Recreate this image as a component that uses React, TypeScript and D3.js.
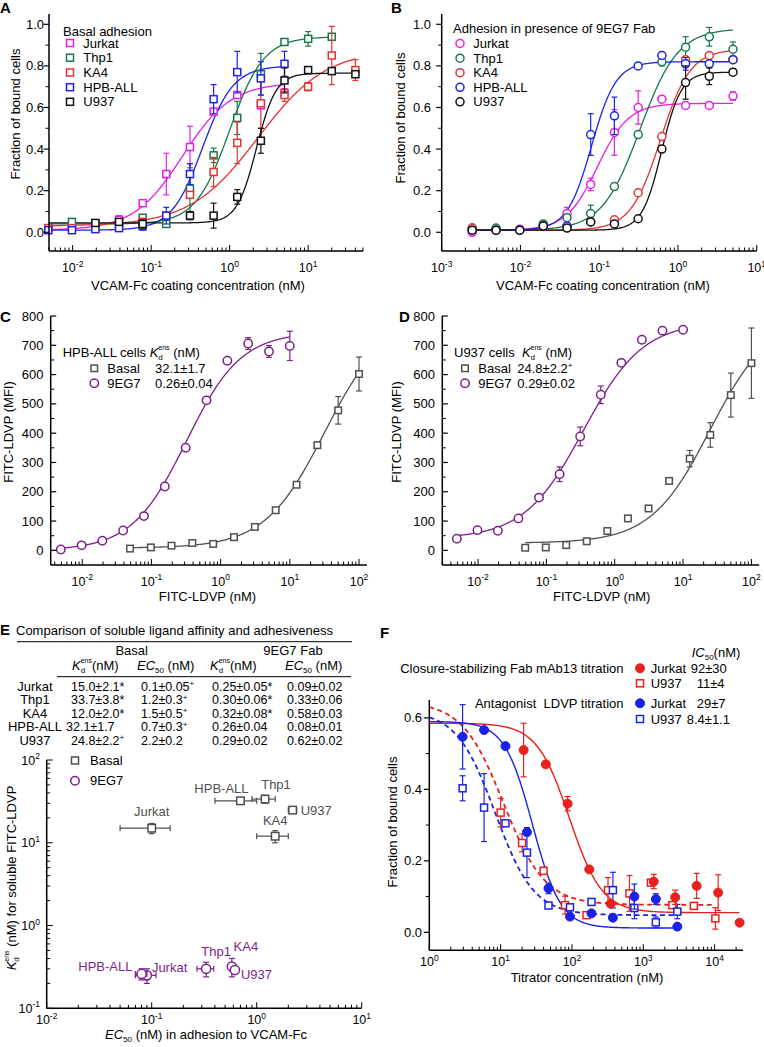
import React from "react";
import * as d3 from "d3";

const FONT = "'Liberation Sans', Arial, Helvetica, sans-serif";
type Pt = [number, number, number]; // [x, y, error]
type Fit = { b: number; t: number; ec: number; n: number; x0: number; x1: number };

// ---------------- Panel A: basal adhesion ----------------
const lineNames = ["Jurkat", "Thp1", "KA4", "HPB-ALL", "U937"];
const lineColors = ["#e61ee6", "#18784a", "#e23434", "#1e22e8", "#111111"];
const aYTicks = [0, 0.2, 0.4, 0.6, 0.8, 1.0];
const aYMinor = [0.1, 0.3, 0.5, 0.7, 0.9];

const aJurkat: Pt[] = [[0.0049, 0.02, 0], [0.0098, 0.03, 0], [0.0195, 0.04, 0], [0.039, 0.06, 0.02], [0.078, 0.14, 0], [0.156, 0.28, 0.1], [0.3125, 0.41, 0.1], [0.625, 0.58, 0], [1.25, 0.66, 0], [2.5, 0.61, 0], [5, 0.67, 0]];
const aThp1: Pt[] = [[0.0098, 0.05, 0], [0.0195, 0.04, 0], [0.078, 0.07, 0], [0.156, 0.04, 0], [0.3125, 0.21, 0.12], [0.625, 0.37, 0.035], [1.25, 0.55, 0.08], [2.5, 0.76, 0.1], [5, 0.915, 0], [10, 0.93, 0.035], [20, 0.94, 0]];
const aKA4: Pt[] = [[0.0049, 0.02, 0], [0.0098, 0.02, 0], [0.039, 0.04, 0], [0.078, 0.05, 0], [0.156, 0.08, 0], [0.3125, 0.18, 0], [0.625, 0.29, 0.07], [1.25, 0.43, 0.1], [2.5, 0.62, 0.12], [5, 0.66, 0.03], [10, 0.70, 0.02], [20, 0.85, 0.14], [40, 0.78, 0.05]];
const aHPB: Pt[] = [[0.0049, 0.01, 0], [0.0098, 0.01, 0], [0.0195, 0.015, 0], [0.039, 0.02, 0], [0.078, 0.03, 0.02], [0.156, 0.08, 0.04], [0.3125, 0.28, 0.05], [0.625, 0.64, 0.07], [1.25, 0.77, 0.1], [2.5, 0.74, 0.08], [5, 0.81, 0.06]];
const aU937: Pt[] = [[0.0195, 0.045, 0], [0.039, 0.05, 0], [0.078, 0.04, 0.02], [0.3125, 0.08, 0.02], [0.625, 0.08, 0.06], [1.25, 0.17, 0.035], [2.5, 0.44, 0.06], [5, 0.73, 0.06], [10, 0.78, 0], [20, 0.775, 0], [40, 0.76, 0]];
const aFits: Fit[] = [
  { b: 0.01, t: 0.72, ec: 0.25, n: 1.4, x0: 0.005, x1: 5 },
  { b: 0.04, t: 0.94, ec: 1.0, n: 2.0, x0: 0.005, x1: 20 },
  { b: 0.03, t: 0.88, ec: 2.3, n: 1.0, x0: 0.005, x1: 40 },
  { b: 0.01, t: 0.80, ec: 0.45, n: 2.2, x0: 0.005, x1: 5 },
  { b: 0.045, t: 0.765, ec: 2.2, n: 3.5, x0: 0.005, x1: 40 },
];

// ---------------- Panel B: 9EG7 Fab ----------------
const bJurkat: Pt[] = [[0.00244, 0.0, 0], [0.0049, 0.01, 0], [0.0098, 0.015, 0], [0.0195, 0.03, 0], [0.039, 0.09, 0.03], [0.078, 0.23, 0.03], [0.156, 0.48, 0.11], [0.3125, 0.60, 0.08], [0.625, 0.64, 0], [1.25, 0.61, 0], [2.5, 0.61, 0], [5, 0.655, 0.02]];
const bThp1: Pt[] = [[0.00244, 0.02, 0], [0.0049, 0.02, 0], [0.0098, 0.01, 0], [0.0195, 0.04, 0], [0.039, 0.07, 0], [0.078, 0.09, 0.04], [0.156, 0.22, 0], [0.3125, 0.47, 0], [0.625, 0.82, 0.02], [1.25, 0.89, 0.05], [2.5, 0.94, 0.045], [5, 0.88, 0.035]];
const bKA4: Pt[] = [[0.00244, 0.02, 0], [0.0049, 0.01, 0], [0.0098, 0.01, 0], [0.0195, 0.03, 0], [0.039, 0.03, 0], [0.078, 0.05, 0], [0.156, 0.06, 0], [0.3125, 0.19, 0], [0.625, 0.46, 0], [1.25, 0.83, 0], [2.5, 0.85, 0], [5, 0.83, 0]];
const bHPB: Pt[] = [[0.00244, 0.01, 0], [0.0049, 0.01, 0], [0.0098, 0.01, 0], [0.0195, 0.03, 0], [0.039, 0.03, 0], [0.078, 0.47, 0.1], [0.156, 0.56, 0.09], [0.3125, 0.80, 0], [0.625, 0.85, 0.015], [1.25, 0.81, 0.03], [2.5, 0.81, 0], [5, 0.83, 0]];
const bU937: Pt[] = [[0.00244, 0.01, 0], [0.0049, 0.01, 0], [0.0098, 0.01, 0], [0.0195, 0.03, 0], [0.039, 0.02, 0], [0.078, 0.05, 0], [0.156, 0.04, 0], [0.3125, 0.065, 0], [0.625, 0.40, 0], [1.25, 0.72, 0.08], [2.5, 0.75, 0.04], [5, 0.77, 0.015]];
const bFits: Fit[] = [
  { b: 0.01, t: 0.62, ec: 0.095, n: 2.2, x0: 0.00244, x1: 5 },
  { b: 0.01, t: 0.98, ec: 0.33, n: 1.8, x0: 0.00244, x1: 5 },
  { b: 0.01, t: 0.88, ec: 0.6, n: 2.3, x0: 0.00244, x1: 5 },
  { b: 0.01, t: 0.82, ec: 0.08, n: 2.8, x0: 0.00244, x1: 5 },
  { b: 0.01, t: 0.77, ec: 0.62, n: 3.5, x0: 0.00244, x1: 5 },
];

// ---------------- Panels C, D: FITC-LDVP binding ----------------
const mfiTicks = [0, 100, 200, 300, 400, 500, 600, 700, 800];
const mfiMinor = [50, 150, 250, 350, 450, 550, 650, 750];
const cFab: Pt[] = [[0.0049, 3, 0], [0.0098, 17, 0], [0.0195, 33, 0], [0.039, 68, 0], [0.078, 117, 0], [0.156, 218, 0], [0.3125, 350, 0], [0.625, 512, 0], [1.25, 647, 0], [2.5, 706, 20], [5, 679, 20], [10, 698, 50]];
const cBasal: Pt[] = [[0.049, 6, 0], [0.098, 10, 0], [0.195, 16, 0], [0.39, 25, 0], [0.78, 22, 0], [1.56, 45, 0], [3.125, 80, 0], [6.25, 137, 0], [12.5, 224, 0], [25, 359, 0], [50, 478, 47], [100, 602, 58]];
const cFitFab: Fit = { b: 0, t: 745, ec: 0.32, n: 1.1, x0: 0.0049, x1: 10 };
const cFitBasal: Fit = { b: 8, t: 800, ec: 32, n: 1.0, x0: 0.049, x1: 100 };
const dFab: Pt[] = [[0.0049, 40, 0], [0.0098, 69, 0], [0.0195, 67, 0], [0.039, 109, 0], [0.078, 180, 0], [0.156, 260, 25], [0.3125, 389, 32], [0.625, 531, 30], [1.25, 640, 0], [2.5, 719, 0], [5, 750, 0], [10, 753, 0]];
const dBasal: Pt[] = [[0.049, 9, 0], [0.098, 10, 0], [0.195, 18, 0], [0.39, 31, 0], [0.78, 66, 0], [1.56, 109, 0], [3.125, 143, 0], [6.25, 237, 0], [12.5, 313, 28], [25, 394, 42], [50, 530, 75], [100, 639, 120]];
const dFitFab: Fit = { b: 40, t: 780, ec: 0.35, n: 1.0, x0: 0.0049, x1: 10 };
const dFitBasal: Fit = { b: 25, t: 800, ec: 25, n: 1.0, x0: 0.049, x1: 100 };

// ---------------- Panel E: table + scatter ----------------
const tableRows = ["Jurkat", "Thp1", "KA4", "HPB-ALL", "U937"];
const basalKdText = ["15.0±2.1*", "33.7±3.8*", "12.0±2.0*", "32.1±1.7", "24.8±2.2+"];
const basalEC50Text = ["0.1±0.05+", "1.2±0.3+", "1.5±0.5+", "0.7±0.3+", "2.2±0.2"];
const fabKdText = ["0.25±0.05*", "0.30±0.06*", "0.32±0.08*", "0.26±0.04", "0.29±0.02"];
const fabEC50Text = ["0.09±0.02", "0.33±0.06", "0.58±0.03", "0.08±0.01", "0.62±0.02"];
const basalKd = [15.0, 33.7, 12.0, 32.1, 24.8];
const basalKdErr = [2.1, 3.8, 2.0, 1.7, 2.2];
const basalEC = [0.1, 1.2, 1.5, 0.7, 2.2];
const basalECErr = [0.05, 0.3, 0.5, 0.3, 0.2];
const fabKd = [0.25, 0.30, 0.32, 0.26, 0.29];
const fabKdErr = [0.05, 0.06, 0.08, 0.04, 0.02];
const fabEC = [0.09, 0.33, 0.58, 0.08, 0.62];
const fabECErr = [0.02, 0.06, 0.03, 0.01, 0.02];
// label placement relative to point: [dx, dy, anchor]
const basalLabelPos: [number, number, string][] = [[0, -12, "middle"], [11, -10, "middle"], [0, -11, "middle"], [-19, -8, "middle"], [8, 4.5, "start"]];
const fabLabelPos: [number, number, string][] = [[5, -3.5, "start"], [10, -13, "middle"], [14, -15.5, "middle"], [-9, -2.7, "end"], [6, 8.5, "start"]];

// ---------------- Panel F: titrations ----------------
const fYTicks = [0, 0.2, 0.4, 0.6];
const fYMinor = [0.1, 0.3, 0.5];
const fMab13Jurkat: Pt[] = [[21, 0.51, 0.075], [43, 0.47, 0], [87, 0.36, 0.02], [175, 0.176, 0], [350, 0.08, 0], [1400, 0.142, 0.02], [2800, 0.098, 0.02], [5600, 0.13, 0.035], [11200, 0.111, 0.05], [22400, 0.027, 0]];
const fMab13U937: Pt[] = [[10, 0.335, 0.04], [20, 0.25, 0.025], [40, 0.172, 0.01], [80, 0.076, 0.025], [160, 0.048, 0], [320, 0.118, 0.035], [640, 0.109, 0.05], [1280, 0.139, 0], [2560, 0.076, 0], [5120, 0.074, 0], [10240, 0.039, 0.03]];
const fLdvpJurkat: Pt[] = [[2.93, 0.547, 0.09], [5.86, 0.566, 0], [11.7, 0.521, 0], [23.4, 0.28, 0], [46.9, 0.123, 0.015], [93.8, 0.044, 0], [188, 0.053, 0], [375, 0.041, 0], [750, 0.10, 0.035], [1500, 0.093, 0.015], [3000, 0.016, 0]];
const fLdvpU937: Pt[] = [[2.93, 0.403, 0.035], [5.86, 0.349, 0.095], [11.7, 0.305, 0], [23.4, 0.223, 0.07], [46.9, 0.075, 0], [93.8, 0.07, 0], [188, 0.085, 0], [375, 0.118, 0.05], [750, 0.068, 0.03], [1500, 0.028, 0.015], [3000, 0.058, 0.02]];
const fFitMab13Jurkat: Fit = { b: 0.055, t: 0.585, ec: 92, n: 1.9, x0: 1, x1: 22400 };
const fFitMab13U937: Fit = { b: 0.077, t: 0.645, ec: 11, n: 1.5, x0: 1, x1: 10240 };
const fFitLdvpJurkat: Fit = { b: 0.012, t: 0.59, ec: 28, n: 2.2, x0: 1, x1: 3000 };
const fFitLdvpU937: Fit = { b: 0.048, t: 0.62, ec: 8.4, n: 1.6, x0: 1, x1: 3000 };
const fLegendNames = ["Jurkat", "U937", "Jurkat", "U937"];
const fLegendIC50 = ["92±30", "11±4", "29±7", "8.4±1.1"];

const RED = "#e8201e";
const BLUE = "#1a22e6";
const PURPLE = "#7e1f8c";
const GRAY = "#505050";

// ---------------- helpers ----------------
const hillUp = (x: number, f: Fit) => f.b + (f.t - f.b) / (1 + Math.pow(f.ec / x, f.n));
const hillDown = (x: number, f: Fit) => f.b + (f.t - f.b) / (1 + Math.pow(x / f.ec, f.n));

function logTicks(a: number, b: number) {
  const out: { v: number; major: boolean; exp: number }[] = [];
  for (let d = Math.floor(Math.log10(a)); d <= Math.ceil(Math.log10(b)); d++) {
    for (let m = 1; m <= 9; m++) {
      const v = m * Math.pow(10, d);
      if (v >= a * 0.999 && v <= b * 1.001) out.push({ v, major: m === 1, exp: d });
    }
  }
  return out;
}

function LogXAxis({ scale, y, labelY }: any) {
  const [a, b] = scale.domain();
  const [r0, r1] = scale.range();
  const ticks = logTicks(a, b);
  return (
    <g>
      <line x1={r0} x2={r1} y1={y} y2={y} stroke="#000" strokeWidth={1.5} />
      {ticks.map((t, i) => (
        <line key={i} x1={scale(t.v)} x2={scale(t.v)} y1={y} y2={y - (t.major ? 6 : 3.5)} stroke="#000" strokeWidth={1} />
      ))}
      {ticks.filter((t) => t.major).map((t, i) => (
        <text key={i} x={scale(t.v)} y={labelY} textAnchor="middle" fontSize={12.5}>
          10<tspan fontSize={8.5} dy={-5.5}>{t.exp}</tspan>
        </text>
      ))}
    </g>
  );
}

function LogYAxis({ scale, x, labelX }: any) {
  const [a, b] = scale.domain();
  const [r0, r1] = scale.range();
  const ticks = logTicks(a, b);
  return (
    <g>
      <line x1={x} x2={x} y1={r0} y2={r1} stroke="#000" strokeWidth={1.5} />
      {ticks.map((t, i) => (
        <line key={i} x1={x} x2={x + (t.major ? 6 : 3.5)} y1={scale(t.v)} y2={scale(t.v)} stroke="#000" strokeWidth={1} />
      ))}
      {ticks.filter((t) => t.major).map((t, i) => (
        <text key={i} x={labelX} y={scale(t.v) + 4.5} textAnchor="end" fontSize={12.5}>
          10<tspan fontSize={8.5} dy={-5.5}>{t.exp}</tspan>
        </text>
      ))}
    </g>
  );
}

function LinYAxis({ scale, x, majors, minors, labelX, fmt, inward }: any) {
  const [r0, r1] = scale.range();
  const s = inward ? 1 : -1;
  return (
    <g>
      <line x1={x} x2={x} y1={r0} y2={r1} stroke="#000" strokeWidth={1.5} />
      {majors.map((v: number, i: number) => (
        <line key={"M" + i} x1={x} x2={x + s * 5.5} y1={scale(v)} y2={scale(v)} stroke="#000" strokeWidth={1.2} />
      ))}
      {minors.map((v: number, i: number) => (
        <line key={"m" + i} x1={x} x2={x + s * 3.5} y1={scale(v)} y2={scale(v)} stroke="#000" strokeWidth={1} />
      ))}
      {majors.map((v: number, i: number) => (
        <text key={"t" + i} x={labelX} y={scale(v) + 4.5} textAnchor="end" fontSize={13}>
          {fmt(v)}
        </text>
      ))}
    </g>
  );
}

function Marker({ shape, x, y, color, size = 7, r = 4 }: any) {
  if (shape === "square")
    return <rect x={x - size / 2} y={y - size / 2} width={size} height={size} fill="#fff" stroke={color} strokeWidth={1.5} />;
  if (shape === "filled") return <circle cx={x} cy={y} r={r} fill={color} stroke={color} strokeWidth={1} />;
  return <circle cx={x} cy={y} r={r} fill="#fff" stroke={color} strokeWidth={1.5} />;
}

function VErr({ x, y1, y2, color }: any) {
  return (
    <g stroke={color} strokeWidth={1.2}>
      <line x1={x} x2={x} y1={y1} y2={y2} />
      <line x1={x - 3} x2={x + 3} y1={y1} y2={y1} />
      <line x1={x - 3} x2={x + 3} y1={y2} y2={y2} />
    </g>
  );
}
function HErr({ y, x1, x2, color }: any) {
  return (
    <g stroke={color} strokeWidth={1.2}>
      <line x1={x1} x2={x2} y1={y} y2={y} />
      <line x1={x1} x2={x1} y1={y - 3} y2={y + 3} />
      <line x1={x2} x2={x2} y1={y - 3} y2={y + 3} />
    </g>
  );
}

function Curve({ fit, xs, ys, color, up = true, dashed = false, width = 1.3 }: any) {
  const xsamp = d3.range(0, 301).map((i) => fit.x0 * Math.pow(fit.x1 / fit.x0, i / 300));
  const line = d3
    .line<number>()
    .x((x) => xs(x))
    .y((x) => ys(up ? hillUp(x, fit) : hillDown(x, fit)));
  return <path d={line(xsamp) || ""} fill="none" stroke={color} strokeWidth={width} strokeDasharray={dashed ? "5,3.5" : undefined} />;
}

function Points({ data, xs, ys, color, shape, size, r }: any) {
  return (
    <g>
      {data.map((p: Pt, i: number) =>
        p[2] > 0 ? <VErr key={"e" + i} x={xs(p[0])} y1={ys(p[1] - p[2])} y2={ys(p[1] + p[2])} color={color} /> : null
      )}
      {data.map((p: Pt, i: number) => (
        <Marker key={i} shape={shape} x={xs(p[0])} y={ys(p[1])} color={color} size={size} r={r} />
      ))}
    </g>
  );
}

// ---------------- Panels ----------------
function PanelA() {
  const xs = d3.scaleLog().domain([0.005, 50]).range([49, 363]);
  const ys = d3.scaleLinear().domain([-0.09, 1.05]).range([251, 13.9]);
  const data = [aJurkat, aThp1, aKA4, aHPB, aU937];
  const legY = [43, 57.7, 72.5, 87.2, 101.8];
  return (
    <g>
      <text x={0} y={13} fontSize={15} fontWeight="bold">A</text>
      {aFits.map((f, i) => <Curve key={i} fit={f} xs={xs} ys={ys} color={lineColors[i]} />)}
      {data.map((d, i) => <Points key={i} data={d} xs={xs} ys={ys} color={lineColors[i]} shape="square" size={7} />)}
      <LinYAxis scale={ys} x={49} majors={aYTicks} minors={aYMinor} labelX={44} fmt={(v: number) => v.toFixed(1)} />
      <LogXAxis scale={xs} y={251} labelY={272} />
      <text x={19.5} y={114} fontSize={13} textAnchor="middle" transform="rotate(-90 19.5 114)">Fraction of bound cells</text>
      <text x={198} y={290} fontSize={13} textAnchor="middle">VCAM-Fc coating concentration (nM)</text>
      <text x={63} y={35.5} fontSize={13}>Basal adhesion</text>
      {lineNames.map((n, i) => (
        <g key={i}>
          <Marker shape="square" x={70} y={legY[i]} color={lineColors[i]} size={7} />
          <text x={83.3} y={legY[i] + 4.6} fontSize={13}>{n}</text>
        </g>
      ))}
    </g>
  );
}

function PanelB() {
  const xs = d3.scaleLog().domain([0.001, 10]).range([441.7, 756.7]);
  const ys = d3.scaleLinear().domain([-0.09, 1.05]).range([251, 13.9]);
  const data = [bJurkat, bThp1, bKA4, bHPB, bU937];
  const legY = [43.5, 58.2, 72.7, 87.3, 101.8];
  return (
    <g>
      <text x={391} y={13} fontSize={15} fontWeight="bold">B</text>
      {bFits.map((f, i) => <Curve key={i} fit={f} xs={xs} ys={ys} color={lineColors[i]} />)}
      {data.map((d, i) => <Points key={i} data={d} xs={xs} ys={ys} color={lineColors[i]} shape="circle" r={4} />)}
      <LinYAxis scale={ys} x={441.7} majors={aYTicks} minors={aYMinor} labelX={431} fmt={(v: number) => v.toFixed(1)} />
      <LogXAxis scale={xs} y={251} labelY={272} />
      <text x={404.5} y={118} fontSize={13} textAnchor="middle" transform="rotate(-90 404.5 118)">Fraction of bound cells</text>
      <text x={603} y={290} fontSize={13} textAnchor="middle">VCAM-Fc coating concentration (nM)</text>
      <text x={453} y={33} fontSize={13}>Adhesion in presence of 9EG7 Fab</text>
      {lineNames.map((n, i) => (
        <g key={i}>
          <Marker shape="circle" x={460} y={legY[i]} color={lineColors[i]} r={4} />
          <text x={473.3} y={legY[i] + 4.6} fontSize={13}>{n}</text>
        </g>
      ))}
    </g>
  );
}

function BindingPanel({ letter, letterX, x0, x1, xDomain, fab, basal, fitFab, fitBasal, title, valBasal, valFab, leg, yLabelX, yTickX, xTitleX }: any) {
  const xs = d3.scaleLog().domain(xDomain).range([x0, x1]);
  const ys = d3.scaleLinear().domain([-50, 800]).range([565, 316]);
  return (
    <g>
      <text x={letterX} y={322} fontSize={15} fontWeight="bold">{letter}</text>
      <Curve fit={fitFab} xs={xs} ys={ys} color={PURPLE} />
      <Curve fit={fitBasal} xs={xs} ys={ys} color={GRAY} />
      <Points data={basal} xs={xs} ys={ys} color={GRAY} shape="square" size={6.5} />
      <Points data={fab} xs={xs} ys={ys} color={PURPLE} shape="circle" r={4.2} />
      <LinYAxis scale={ys} x={x0} majors={mfiTicks} minors={mfiMinor} labelX={yTickX} fmt={(v: number) => String(v)} inward />
      <LogXAxis scale={xs} y={565} labelY={585.5} />
      <text x={yLabelX} y={432} fontSize={13} textAnchor="middle" transform={`rotate(-90 ${yLabelX} 432)`}>FITC-LDVP (MFI)</text>
      <text x={xTitleX} y={600.5} fontSize={13} textAnchor="middle">FITC-LDVP (nM)</text>
      <text x={leg.tx} y={357} fontSize={13}>
        {title}
        <tspan fontStyle="italic">K</tspan>
        <tspan fontSize={8} dy={3}>d</tspan>
        <tspan fontSize={7} dx={-4.5} dy={-10}>ens</tspan>
        <tspan dy={7}> (nM)</tspan>
      </text>
      <Marker shape="square" x={leg.mx} y={368.3} color={GRAY} size={6.5} />
      <text x={leg.nx} y={372.8} fontSize={13}>Basal</text>
      <text x={leg.vx} y={372.8} fontSize={13}>
        {valBasal.replace("+", "")}
        {valBasal.endsWith("+") ? <tspan fontSize={8} dy={-5}>+</tspan> : null}
      </text>
      <Marker shape="circle" x={leg.mx} y={383.3} color={PURPLE} r={4.2} />
      <text x={leg.nx} y={387.8} fontSize={13}>9EG7</text>
      <text x={leg.vx} y={387.8} fontSize={13}>{valFab}</text>
    </g>
  );
}

function Val({ x, y, s, size = 12.5 }: any) {
  const plus = s.endsWith("+");
  return (
    <text x={x} y={y} fontSize={size}>
      {plus ? s.slice(0, -1) : s}
      {plus ? <tspan fontSize={8} dy={-4.5}>+</tspan> : null}
    </text>
  );
}

function PanelE() {
  const xs = d3.scaleLog().domain([0.01, 10]).range([46.7, 361.7]);
  const ys = d3.scaleLog().domain([0.1, 100]).range([1008.3, 760]);
  const rowY = [690.5, 704, 717.5, 731, 744.5];
  const kdHead = (x: number) => (
    <text x={x} y={670} fontSize={13}>
      <tspan fontStyle="italic">K</tspan>
      <tspan fontSize={8} dy={3}>d</tspan>
      <tspan fontSize={7} dx={-4.5} dy={-10}>ens</tspan>
      <tspan dy={7}>(nM)</tspan>
    </text>
  );
  const ecHead = (x: number) => (
    <text x={x} y={670} fontSize={13}>
      <tspan fontStyle="italic">EC</tspan>
      <tspan fontSize={8} dy={3}>50</tspan>
      <tspan dy={-3}> (nM)</tspan>
    </text>
  );
  return (
    <g>
      <text x={0} y={635} fontSize={15} fontWeight="bold">E</text>
      <text x={16} y={635} fontSize={13}>Comparison of soluble ligand affinity and adhesiveness</text>
      <line x1={17} x2={352} y1={641.7} y2={641.7} stroke="#000" strokeWidth={1} />
      <text x={131.7} y={654.5} fontSize={13} textAnchor="middle">Basal</text>
      <text x={293} y={654.5} fontSize={13} textAnchor="middle">9EG7 Fab</text>
      {kdHead(72)}
      {ecHead(137)}
      {kdHead(210)}
      {ecHead(285)}
      <line x1={57} x2={351} y1={676.7} y2={676.7} stroke="#000" strokeWidth={1} />
      {tableRows.map((r, i) => (
        <g key={i}>
          <text x={35} y={rowY[i]} fontSize={13} textAnchor="middle">{r}</text>
          <Val x={i === 3 ? 66 : 71} y={rowY[i]} s={basalKdText[i]} />
          <Val x={141} y={rowY[i]} s={basalEC50Text[i]} />
          <Val x={212} y={rowY[i]} s={fabKdText[i]} />
          <Val x={287} y={rowY[i]} s={fabEC50Text[i]} />
        </g>
      ))}

      {/* scatter */}
      {tableRows.map((n, i) => (
        <g key={"b" + i}>
          <VErr x={xs(basalEC[i])} y1={ys(basalKd[i] - basalKdErr[i])} y2={ys(basalKd[i] + basalKdErr[i])} color={GRAY} />
          <HErr y={ys(basalKd[i])} x1={xs(basalEC[i] - basalECErr[i])} x2={xs(basalEC[i] + basalECErr[i])} color={GRAY} />
          <Marker shape="square" x={xs(basalEC[i])} y={ys(basalKd[i])} color={GRAY} size={7.5} />
          <text x={xs(basalEC[i]) + basalLabelPos[i][0]} y={ys(basalKd[i]) + basalLabelPos[i][1]} fontSize={13} fill={GRAY} textAnchor={basalLabelPos[i][2] as any}>{n}</text>
        </g>
      ))}
      {tableRows.map((n, i) => (
        <g key={"f" + i}>
          <VErr x={xs(fabEC[i])} y1={ys(fabKd[i] - fabKdErr[i])} y2={ys(fabKd[i] + fabKdErr[i])} color={PURPLE} />
          <HErr y={ys(fabKd[i])} x1={xs(fabEC[i] - fabECErr[i])} x2={xs(fabEC[i] + fabECErr[i])} color={PURPLE} />
          <Marker shape="circle" x={xs(fabEC[i])} y={ys(fabKd[i])} color={PURPLE} r={4.6} />
          <text x={xs(fabEC[i]) + fabLabelPos[i][0]} y={ys(fabKd[i]) + fabLabelPos[i][1]} fontSize={13} fill={PURPLE} textAnchor={fabLabelPos[i][2] as any}>{n}</text>
        </g>
      ))}
      <LogYAxis scale={ys} x={46.7} labelX={40} />
      <LogXAxis scale={xs} y={1008.3} labelY={1024} />
      <Marker shape="square" x={75} y={760.5} color={GRAY} size={7} />
      <text x={90} y={765} fontSize={13}>Basal</text>
      <Marker shape="circle" x={75} y={780.7} color={PURPLE} r={4.3} />
      <text x={90} y={785.2} fontSize={13}>9EG7</text>
      <text x={15.5} y={878} fontSize={13} textAnchor="middle" transform="rotate(-90 15.5 878)">
        <tspan fontStyle="italic">K</tspan>
        <tspan fontSize={8} dy={3}>d</tspan>
        <tspan fontSize={7} dx={-4.5} dy={-10}>ens</tspan>
        <tspan dy={7}> (nM) for soluble FITC-LDVP</tspan>
      </text>
      <text x={206} y={1039} fontSize={13} textAnchor="middle">
        <tspan fontStyle="italic">EC</tspan>
        <tspan fontSize={8} dy={3}>50</tspan>
        <tspan dy={-3}> (nM) in adhesion to VCAM-Fc</tspan>
      </text>
    </g>
  );
}

function PanelF() {
  const xs = d3.scaleLog().domain([1, 25000]).range([429.3, 743]);
  const ys = d3.scaleLinear().domain([-0.05, 0.65]).range([950.2, 700]);
  const legY = [668.3, 683.3, 703.3, 719];
  const legColors = [RED, RED, BLUE, BLUE];
  const legShapes = ["filled", "square", "filled", "square"];
  const legValX = [690.7, 696.7, 696.7, 686.7];
  return (
    <g>
      <text x={380} y={638} fontSize={15} fontWeight="bold">F</text>
      <Curve fit={fFitMab13Jurkat} xs={xs} ys={ys} color={RED} up={false} width={1.4} />
      <Curve fit={fFitMab13U937} xs={xs} ys={ys} color={RED} up={false} dashed width={1.8} />
      <Curve fit={fFitLdvpJurkat} xs={xs} ys={ys} color={BLUE} up={false} width={1.4} />
      <Curve fit={fFitLdvpU937} xs={xs} ys={ys} color={BLUE} up={false} dashed width={1.8} />
      <Points data={fMab13U937} xs={xs} ys={ys} color={RED} shape="square" size={7} />
      <Points data={fLdvpU937} xs={xs} ys={ys} color={BLUE} shape="square" size={7} />
      <Points data={fMab13Jurkat} xs={xs} ys={ys} color={RED} shape="filled" r={4.5} />
      <Points data={fLdvpJurkat} xs={xs} ys={ys} color={BLUE} shape="filled" r={4.5} />
      <LinYAxis scale={ys} x={429.3} majors={fYTicks} minors={fYMinor} labelX={422} fmt={(v: number) => v.toFixed(1)} />
      <LogXAxis scale={xs} y={950.2} labelY={966} />
      <text x={396.5} y={822} fontSize={13} textAnchor="middle" transform="rotate(-90 396.5 822)">Fraction of bound cells</text>
      <text x={587} y={982} fontSize={13} textAnchor="middle">Titrator concentration (nM)</text>
      <text x={691.7} y={657} fontSize={13}>
        <tspan fontStyle="italic">IC</tspan>
        <tspan fontSize={8} dy={3}>50</tspan>
        <tspan dy={-3}>(nM)</tspan>
      </text>
      <text x={623.5} y={672.8} fontSize={13} textAnchor="end">Closure-stabilizing Fab mAb13 titration</text>
      <text x={623.5} y={707.8} fontSize={13} textAnchor="end">{"Antagonist\u00a0 LDVP titration"}</text>
      {fLegendNames.map((n, i) => (
        <g key={i}>
          <Marker shape={legShapes[i]} x={640} y={legY[i]} color={legColors[i]} size={7} r={4.5} />
          <text x={650.7} y={legY[i] + 4.6} fontSize={13}>{n}</text>
          <text x={legValX[i]} y={legY[i] + 4.6} fontSize={13}>{fLegendIC50[i]}</text>
        </g>
      ))}
    </g>
  );
}

export default function App() {
  return (
    <svg width={764} height={1047} style={{ position: "absolute", left: 0, top: 0, background: "#fff" }} fontFamily={FONT}>
      <rect x={0} y={0} width={764} height={1047} fill="#fff" />
      <PanelA />
      <PanelB />
      <BindingPanel letter="C" letterX={0} x0={50.7} x1={366.9} xDomain={[0.0035, 130]} fab={cFab} basal={cBasal} fitFab={cFitFab} fitBasal={cFitBasal}
        title="HPB-ALL cells " valBasal="32.1±1.7" valFab="0.26±0.04" leg={{ tx: 62.7, mx: 94.3, nx: 107.3, vx: 155 }} yLabelX={13} yTickX={43.5} xTitleX={207.5} />
      <BindingPanel letter="D" letterX={399} x0={442.3} x1={759.2} xDomain={[0.003, 130]} fab={dFab} basal={dBasal} fitFab={dFitFab} fitBasal={dFitBasal}
        title={"U937 cells\u00a0 "} valBasal="24.8±2.2+" valFab="0.29±0.02" leg={{ tx: 454, mx: 465, nx: 478.3, vx: 517.3 }} yLabelX={400.5} yTickX={435} xTitleX={601.7} />
      <PanelE />
      <PanelF />
    </svg>
  );
}
